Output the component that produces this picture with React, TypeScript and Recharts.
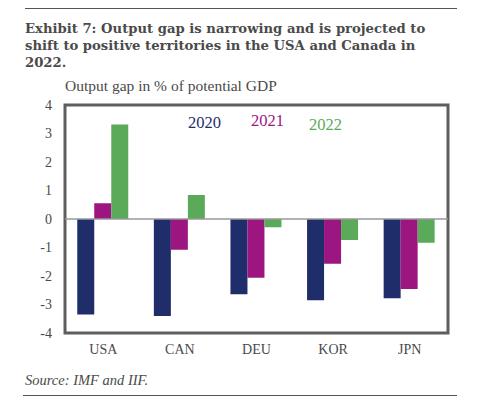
import React from "react";
import { BarChart, Bar, XAxis, YAxis, ReferenceLine, ReferenceArea } from "recharts";

const countries = ["USA", "CAN", "DEU", "KOR", "JPN"];
const gap2020 = [-3.35, -3.4, -2.64, -2.85, -2.78];
const gap2021 = [0.55, -1.08, -2.06, -1.57, -2.46];
const gap2022 = [3.32, 0.84, -0.29, -0.74, -0.83];
const yTicks = [-4, -3, -2, -1, 0, 1, 2, 3, 4];

const series = [
  { key: "y2020", name: "2020", color: "#1f2d6b", values: gap2020 },
  { key: "y2021", name: "2021", color: "#9c1581", values: gap2021 },
  { key: "y2022", name: "2022", color: "#5aaa5a", values: gap2022 },
];

const data = countries.map((c, i) => ({
  country: c,
  y2020: gap2020[i],
  y2021: gap2021[i],
  y2022: gap2022[i],
}));

const FONT = "'Liberation Serif', 'Times New Roman', serif";
const TEXT = "#4a4a4a";
const FRAME = "#5e5e5e";

// legend labels sit inside the plot, slightly staggered like the original
const legendPos = [
  { left: 188, top: 113 },
  { left: 251, top: 111 },
  { left: 309, top: 115 },
];

export default function App() {
  return (
    <div
      style={{
        position: "fixed",
        left: 0,
        top: 0,
        width: 500,
        height: 415,
        background: "#fff",
        fontFamily: FONT,
        color: TEXT,
      }}
    >
      <div style={{ position: "absolute", left: 25, top: 8, width: 432, borderTop: "1px solid #555" }} />
      <div
        style={{
          position: "absolute",
          left: 25,
          top: 20,
          whiteSpace: "nowrap",
          fontWeight: "bold",
          fontFamily: "'DejaVu Serif', serif",
          fontSize: 13.2,
          lineHeight: "17px",
        }}
      >
        Exhibit 7: Output gap is narrowing and is projected to
        <br />
        shift to positive territories in the USA and Canada in
        <br />
        2022.
      </div>
      <div style={{ position: "absolute", left: 65, top: 77, fontSize: 15.5 }}>Output gap in % of potential GDP</div>

      <div style={{ position: "absolute", left: 0, top: 0 }}>
        <BarChart
          width={500}
          height={415}
          data={data}
          margin={{ top: 105, right: 52, bottom: 52, left: 35 }}
          barCategoryGap="16%"
          barGap={0}
        >
          <XAxis
            dataKey="country"
            height={30}
            axisLine={false}
            tickLine={false}
            tickSize={0}
            tickMargin={11}
            tick={{ fill: TEXT, fontSize: 14, fontFamily: FONT }}
            interval={0}
          />
          <YAxis
            width={30}
            domain={[-4, 4]}
            ticks={yTicks}
            axisLine={false}
            tickLine={false}
            tickSize={0}
            tickMargin={13}
            tick={{ fill: TEXT, fontSize: 14, fontFamily: FONT }}
            allowDataOverflow
          />
          <ReferenceLine y={0} stroke="#999" strokeWidth={1.5} />
          {series.map((s) => (
            <Bar key={s.key} dataKey={s.key} name={s.name} fill={s.color} isAnimationActive={false} />
          ))}
          {/* plot frame; half of the stroke is clipped by the plot area */}
          <ReferenceArea y1={-4} y2={4} fill="none" stroke={FRAME} strokeWidth={3} />
        </BarChart>
      </div>

      {series.map((s, i) => (
        <div
          key={s.key}
          style={{ position: "absolute", left: legendPos[i].left, top: legendPos[i].top, fontSize: 16.5, color: s.color }}
        >
          {s.name}
        </div>
      ))}

      <div style={{ position: "absolute", left: 25, top: 372, fontSize: 14.5, fontStyle: "italic" }}>Source: IMF and IIF.</div>
      <div style={{ position: "absolute", left: 23, top: 395, width: 434, borderTop: "1px solid #555" }} />
    </div>
  );
}
